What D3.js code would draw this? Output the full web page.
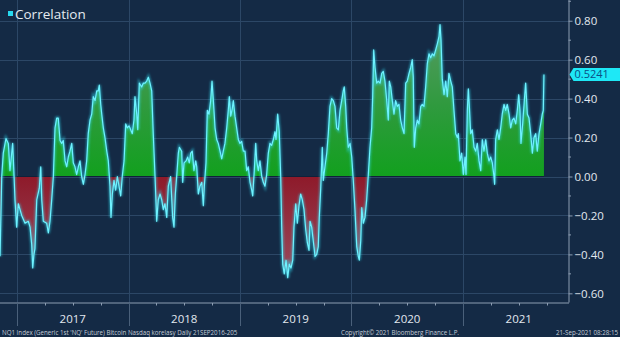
<!DOCTYPE html>
<html><head><meta charset="utf-8">
<script src="https://cdn.jsdelivr.net/npm/d3@7"></script>
<style>
html,body{margin:0;padding:0;background:#142a45;}
svg{display:block;}
text{font-family:"Open Sans","DejaVu Sans",sans-serif;}
</style></head>
<body>
<svg id="c" width="620" height="337"></svg>
<script>
// ---- data ----
const yearLabels = ["2017","2018","2019","2020","2021"];
const yTickValues = [-0.6,-0.4,-0.2,0,0.2,0.4,0.6,0.8];
const lastValue = 0.5241;
const seriesName = "Correlation";
// time as decimal years
const dateYears = [
2016.848,2016.863,2016.877,2016.901,2016.922,2016.937,2016.961,2016.973,2016.982,2016.997,
2017.012,2017.042,2017.072,2017.101,2017.117,2017.132,2017.141,2017.152,2017.161,2017.177,
2017.200,2017.213,2017.222,2017.236,2017.266,2017.281,2017.296,2017.311,2017.326,2017.341,
2017.356,2017.370,2017.386,2017.401,2017.415,2017.431,2017.446,2017.460,2017.475,2017.491,
2017.505,2017.520,2017.535,2017.550,2017.565,2017.580,2017.595,2017.610,2017.625,2017.639,
2017.655,2017.670,2017.684,2017.700,2017.715,2017.729,2017.738,2017.751,2017.760,2017.774,
2017.789,2017.805,2017.819,2017.834,2017.843,2017.855,2017.870,2017.885,2017.900,2017.915,
2017.930,2017.944,2017.960,2017.975,2017.989,2018.005,2018.020,2018.034,2018.049,2018.058,
2018.074,2018.083,2018.097,2018.118,2018.133,2018.148,2018.163,2018.178,2018.193,2018.208,
2018.222,2018.238,2018.253,2018.267,2018.283,2018.298,2018.312,2018.327,2018.343,2018.357,
2018.378,2018.396,2018.408,2018.420,2018.432,2018.447,2018.456,2018.477,2018.486,2018.498,
2018.516,2018.531,2018.545,2018.558,2018.572,2018.587,2018.603,2018.612,2018.626,2018.641,
2018.657,2018.671,2018.680,2018.695,2018.707,2018.722,2018.737,2018.749,2018.761,2018.776,
2018.791,2018.805,2018.821,2018.836,2018.850,2018.865,2018.881,2018.895,2018.904,2018.917,
2018.931,2018.940,2018.955,2018.970,2018.985,2019.000,2019.015,2019.030,2019.045,2019.060,
2019.074,2019.090,2019.105,2019.114,2019.128,2019.141,2019.150,2019.164,2019.179,2019.195,
2019.209,2019.224,2019.239,2019.254,2019.269,2019.284,2019.299,2019.314,2019.323,2019.338,
2019.352,2019.365,2019.374,2019.383,2019.397,2019.413,2019.428,2019.442,2019.457,2019.473,
2019.484,2019.500,2019.514,2019.529,2019.544,2019.559,2019.574,2019.589,2019.604,2019.619,
2019.628,2019.643,2019.657,2019.673,2019.688,2019.702,2019.711,2019.724,2019.738,2019.747,
2019.762,2019.778,2019.792,2019.807,2019.822,2019.837,2019.852,2019.867,2019.882,2019.897,
2019.912,2019.926,2019.935,2019.948,2019.957,2019.971,2019.987,2020.002,2020.016,2020.031,
2020.047,2020.061,2020.070,2020.083,2020.092,2020.106,2020.121,2020.136,2020.151,2020.166,
2020.181,2020.190,2020.199,2020.211,2020.226,2020.240,2020.256,2020.271,2020.285,2020.300,
2020.316,2020.330,2020.339,2020.352,2020.366,2020.381,2020.396,2020.411,2020.426,2020.441,
2020.456,2020.471,2020.486,2020.500,2020.516,2020.531,2020.545,2020.554,2020.563,2020.576,
2020.590,2020.605,2020.621,2020.635,2020.650,2020.665,2020.680,2020.695,2020.710,2020.725,
2020.740,2020.755,2020.769,2020.785,2020.794,2020.803,2020.814,2020.830,2020.845,2020.859,
2020.874,2020.890,2020.904,2020.919,2020.935,2020.949,2020.958,2020.973,2020.988,2021.003,
2021.018,2021.027,2021.039,2021.048,2021.057,2021.069,2021.083,2021.099,2021.114,2021.128,
2021.144,2021.159,2021.173,2021.188,2021.204,2021.218,2021.233,2021.248,2021.263,2021.278,
2021.284,2021.293,2021.308,2021.323,2021.338,2021.352,2021.368,2021.383,2021.397,2021.413,
2021.428,2021.442,2021.457,2021.473,2021.487,2021.500,2021.511,2021.520,2021.535,2021.550,
2021.562,2021.577,2021.592,2021.607,2021.622,2021.637,2021.652,2021.666,2021.682,2021.697,
2021.711,2021.720,2021.726
];
const corrValues = [
-0.41,0.00,0.12,0.195,0.17,0.03,0.17,0.01,-0.12,-0.26,
-0.14,-0.20,-0.24,-0.23,-0.26,-0.35,-0.47,-0.40,-0.37,-0.12,
-0.06,0.05,-0.12,-0.23,-0.24,-0.29,-0.23,-0.12,0.00,0.25,
0.30,0.30,0.185,0.17,0.185,0.08,0.05,0.10,0.13,0.17,
0.07,0.05,0.01,0.05,0.08,0.00,-0.04,0.01,0.08,0.22,
0.29,0.32,0.41,0.39,0.44,0.44,0.47,0.37,0.32,0.25,
0.20,0.13,0.08,-0.05,-0.21,-0.09,-0.02,-0.07,0.00,-0.05,
-0.10,0.00,0.08,0.27,0.25,0.26,0.24,0.22,0.29,0.41,
0.32,0.24,0.48,0.46,0.48,0.48,0.49,0.51,0.48,0.44,
0.22,0.00,-0.23,-0.12,-0.09,-0.12,-0.17,-0.14,-0.21,-0.05,
0.00,-0.21,-0.26,-0.09,0.00,0.12,0.15,0.13,-0.03,0.07,
0.08,0.10,0.07,0.12,0.13,0.03,0.08,0.05,-0.09,-0.05,
-0.03,-0.15,-0.05,0.07,0.34,0.32,0.39,0.49,0.39,0.25,
0.19,0.17,0.13,0.09,0.13,0.17,0.25,0.34,0.41,0.31,
0.35,0.39,0.31,0.25,0.19,0.17,0.18,0.13,0.13,0.03,
0.05,-0.03,-0.07,-0.10,0.03,0.17,0.08,0.03,0.08,0.00,
-0.03,-0.05,0.01,0.12,0.17,0.16,0.19,0.23,0.19,0.32,
0.23,0.00,-0.26,-0.45,-0.50,-0.43,-0.52,-0.45,-0.47,-0.43,
-0.26,-0.14,-0.24,-0.15,-0.09,-0.12,-0.17,-0.27,-0.34,-0.38,
-0.23,-0.26,-0.33,-0.41,-0.40,-0.36,-0.21,-0.06,0.15,
-0.02,0.05,0.12,0.22,0.36,0.40,0.39,0.36,0.25,0.24,
0.34,0.39,0.44,0.46,0.36,0.25,0.15,0.17,0.10,-0.02,
-0.17,-0.36,-0.41,-0.43,-0.33,-0.16,-0.24,-0.21,-0.12,0.01,
0.15,0.25,0.41,0.65,0.56,0.48,0.49,0.48,0.53,0.54,
0.49,0.39,0.29,0.49,0.46,0.39,0.32,0.39,0.36,0.37,
0.29,0.25,0.22,0.48,0.49,0.53,0.56,0.60,0.51,0.15,
0.25,0.29,0.27,0.36,0.37,0.36,0.46,0.58,0.63,0.61,
0.63,0.62,0.65,0.68,0.72,0.78,0.70,0.50,0.42,0.49,
0.41,0.53,0.49,0.46,0.34,0.22,0.20,0.22,0.08,0.12,
0.01,0.10,0.01,0.34,0.45,0.36,0.22,0.24,0.15,0.13,
0.17,0.08,0.03,0.19,0.13,0.19,0.12,0.08,0.10,0.07,
0.00,-0.04,0.19,0.24,0.19,0.25,0.32,0.37,0.34,0.37,
0.32,0.25,0.29,0.30,0.27,0.34,0.42,0.34,0.17,0.27,
0.39,0.48,0.32,0.30,0.22,0.12,0.20,0.22,0.13,0.22,
0.27,0.32,0.34,0.5241
];
const footerLeft = "NQ1 Index (Generic 1st 'NQ' Future) Bitcoin Nasdaq korelasy  Daily 21SEP2016-205";
const footerMid = "Copyright\u00A9 2021 Bloomberg Finance L.P.";
const footerRight = "21-Sep-2021 08:28:15";

// ---- layout ----
const W = 620, H = 337;
const plot = {left: 0, right: 568.5, top: 0, bottom: 302.5};
const svg = d3.select("#c");
const data = dateYears.map((t, i) => ({t, v: corrValues[i]}));

const x = d3.scaleLinear().domain([2016.8475, 2021.9507]).range([plot.left, plot.right + 0.5]);
const y = d3.scaleLinear().domain([-0.6497, 0.9065]).range([plot.bottom + 0.5, 0]);

const defs = svg.append("defs");
defs.append("clipPath").attr("id","plotClip").append("rect")
  .attr("x",plot.left).attr("y",plot.top).attr("width",plot.right-plot.left).attr("height",plot.bottom-plot.top);
defs.append("clipPath").attr("id","posClip").append("rect")
  .attr("x",0).attr("y",0).attr("width",plot.right).attr("height",y(0));
defs.append("clipPath").attr("id","negClip").append("rect")
  .attr("x",0).attr("y",y(0)).attr("width",plot.right).attr("height",plot.bottom-y(0));

const gG = defs.append("linearGradient").attr("id","gGreen").attr("gradientUnits","userSpaceOnUse")
  .attr("x1",0).attr("x2",0).attr("y1",y(0.8)).attr("y2",y(0));
gG.append("stop").attr("offset","0").attr("stop-color","#5a9a66");
gG.append("stop").attr("offset","0.55").attr("stop-color","#2f9a3e");
gG.append("stop").attr("offset","1").attr("stop-color","#12a01e");
const gR = defs.append("linearGradient").attr("id","gRed").attr("gradientUnits","userSpaceOnUse")
  .attr("x1",0).attr("x2",0).attr("y1",y(0)).attr("y2",y(-0.55));
gR.append("stop").attr("offset","0").attr("stop-color","#8e1a2a");
gR.append("stop").attr("offset","1").attr("stop-color","#9a4e60");

const glow = defs.append("filter").attr("id","glow").attr("x","-5%").attr("y","-5%").attr("width","110%").attr("height","110%");
glow.append("feGaussianBlur").attr("stdDeviation",1.2);

// gridlines
const grid = svg.append("g");
grid.selectAll("line.h").data(yTickValues).join("line")
  .attr("x1",plot.left).attr("x2",plot.right)
  .attr("y1",d=>Math.round(y(d))+0.5).attr("y2",d=>Math.round(y(d))+0.5)
  .attr("stroke","#2c4766").attr("stroke-width",1);
const yearStarts = yearLabels.map(s => +s);
grid.selectAll("line.v").data(yearStarts).join("line")
  .attr("x1",d=>Math.round(x(d))+0.5).attr("x2",d=>Math.round(x(d))+0.5)
  .attr("y1",plot.top).attr("y2",plot.bottom)
  .attr("stroke","#2c4766").attr("stroke-width",1);

// area
const area = d3.area().x(d=>x(d.t)).y0(y(0)).y1(d=>y(d.v));
const areaG = svg.append("g").attr("clip-path","url(#plotClip)");
areaG.append("path").datum(data).attr("d",area).attr("fill","url(#gGreen)").attr("clip-path","url(#posClip)");
areaG.append("path").datum(data).attr("d",area).attr("fill","url(#gRed)").attr("clip-path","url(#negClip)");

// zero baseline under data
areaG.append("line").attr("x1",x(dateYears[0])).attr("x2",x(dateYears[dateYears.length-1]))
  .attr("y1",y(0)).attr("y2",y(0)).attr("stroke","#10213a").attr("stroke-width",1.2);

// line
const line = d3.line().x(d=>x(d.t)).y(d=>y(d.v));
areaG.append("path").datum(data).attr("d",line).attr("fill","none")
  .attr("stroke","#2fd8f0").attr("stroke-width",3).attr("stroke-opacity",0.55).attr("filter","url(#glow)");
areaG.append("path").datum(data).attr("d",line).attr("fill","none")
  .attr("stroke","#6ff2ff").attr("stroke-width",1.2).attr("stroke-linejoin","round");

// right axis
const axisCol = "#8c9db2";
const yAxis = d3.axisRight(y).tickValues(yTickValues).tickSize(4).tickPadding(2)
  .tickFormat(d3.format(".2f"));
const ya = svg.append("g").attr("transform",`translate(${plot.right},0)`).call(yAxis);
ya.select(".domain").attr("stroke",axisCol).attr("d",`M0.5,0V${plot.bottom}`);
ya.selectAll(".tick line").attr("stroke",axisCol);
ya.selectAll(".tick text").attr("fill","#e2e8ef").attr("font-size",11.5).attr("dy","0.35em");
// minor ticks
const minor = d3.range(-0.6, 0.95, 0.1).map(v => +v.toFixed(2)).filter(v => !yTickValues.some(t => Math.abs(t-v)<1e-6));
svg.append("g").selectAll("line").data(minor).join("line")
  .attr("x1",plot.right).attr("x2",plot.right+2.5)
  .attr("y1",d=>y(d)).attr("y2",d=>y(d)).attr("stroke",axisCol);

// bottom axis
svg.append("line").attr("x1",plot.left).attr("x2",plot.right+0.5)
  .attr("y1",plot.bottom+0.5).attr("y2",plot.bottom+0.5).attr("stroke",axisCol);
const quarters = [];
yearStarts.forEach(yv => [0.25,0.5,0.75].forEach(q => { if (x(yv+q) < plot.right) quarters.push(yv+q); }));
[2016.75].forEach(q => { if (x(q) >= 0) quarters.push(q); });
svg.append("g").selectAll("line").data(quarters).join("line")
  .attr("x1",d=>Math.round(x(d))+0.5).attr("x2",d=>Math.round(x(d))+0.5)
  .attr("y1",plot.bottom+0.5).attr("y2",plot.bottom+3).attr("stroke",axisCol);
svg.append("g").selectAll("line").data(yearStarts).join("line")
  .attr("x1",d=>Math.round(x(d))+0.5).attr("x2",d=>Math.round(x(d))+0.5)
  .attr("y1",plot.bottom+0.5).attr("y2",326).attr("stroke","#4a607a");
svg.append("g").selectAll("text").data(yearStarts).join("text")
  .attr("x",d=>(x(d)+Math.min(x(d+1),plot.right+40))/2)
  .attr("y",323).attr("text-anchor","middle")
  .attr("fill","#e2e8ef").attr("font-size",11.5).text((d,i)=>yearLabels[i]);

// footer
const ft = svg.append("g").attr("fill","#c5ccd6").attr("font-size",6.2).attr("font-family","'DejaVu Sans',sans-serif");
ft.append("text").attr("x",2).attr("y",335).text(footerLeft);
ft.append("text").attr("x",341).attr("y",335).text(footerMid);
ft.append("text").attr("x",618).attr("y",335).attr("text-anchor","end").text(footerRight);

// last value tag
const ly = y(lastValue);
const tag = svg.append("g");
tag.append("path").attr("d",`M${plot.right+1},${ly} L${plot.right+5},${ly-6.5} H620 V${ly+6.5} H${plot.right+5} Z`)
  .attr("fill","#1ee8f6");
tag.append("text").attr("x",plot.right+6).attr("y",ly).attr("dy","0.36em")
  .attr("fill","#0b4f85").attr("font-size",11).text(d3.format(".4f")(lastValue));

// legend
svg.append("rect").attr("x",8).attr("y",11).attr("width",5).attr("height",5).attr("fill","#27d9ef");
svg.append("text").attr("x",15).attr("y",18.5).attr("fill","#e4eaf1").attr("font-size",13.5).text(seriesName);
</script>
</body></html>
